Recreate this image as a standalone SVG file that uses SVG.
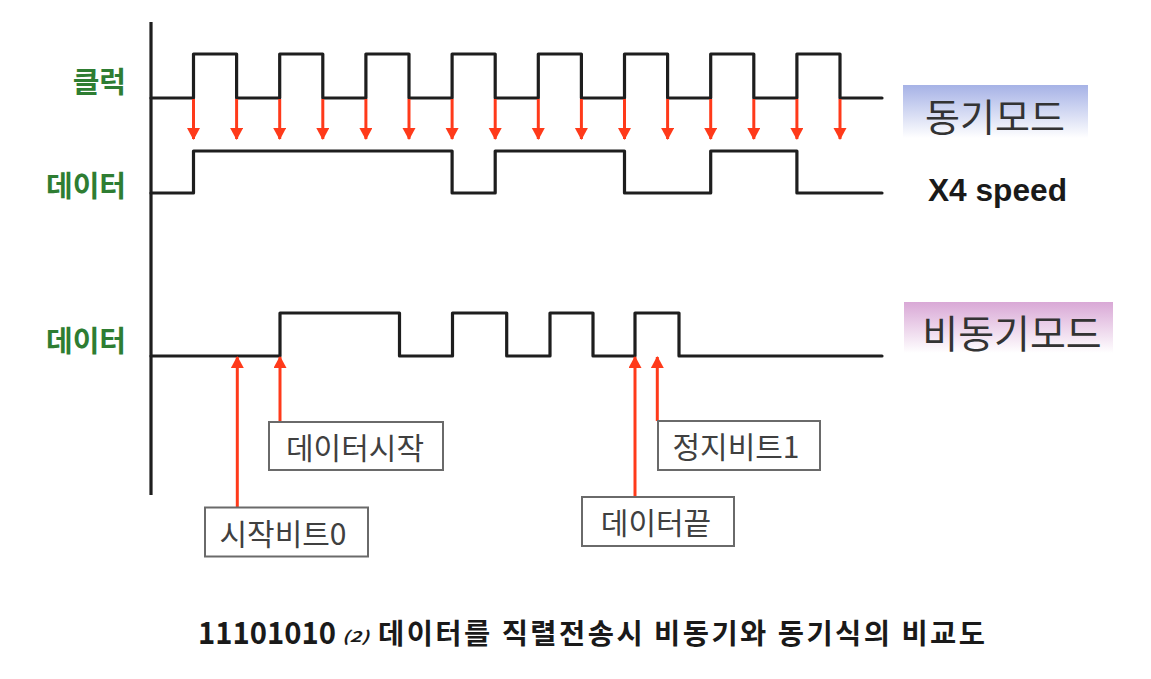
<svg xmlns="http://www.w3.org/2000/svg" width="1151" height="679" viewBox="0 0 1151 679">
<style>
.wave{fill:none;stroke:#1e1e1e;stroke-width:3.2;stroke-linejoin:round;stroke-linecap:round}
.axis{stroke:#1e1e1e;stroke-width:3.2}
.arr{stroke:#ff3a1a;stroke-width:3}
.lbl{font-family:"Noto Sans CJK KR","Noto Sans",sans-serif;font-weight:700;font-size:29px;fill:#2e7d32;text-anchor:end}
.box{fill:#fff;stroke:#6a6a6a;stroke-width:2}
.btxt{font-family:"Noto Sans CJK KR","Noto Sans",sans-serif;font-size:30px;fill:#404040;text-anchor:middle}
.mode{font-family:"Noto Sans CJK KR","Noto Sans",sans-serif;fill:#333;text-anchor:middle}
.cap{font-family:"Noto Sans CJK KR","Noto Sans",sans-serif;font-weight:700;fill:#1a1a1a}
</style>
<defs>
<marker id="ah" markerUnits="userSpaceOnUse" markerWidth="14" markerHeight="14" refX="11" refY="6.5" orient="auto">
<path d="M0,0 L12,6.5 L0,13 Z" fill="#ff3a1a"/>
</marker>
<linearGradient id="gblue" x1="0" y1="0" x2="0" y2="1">
<stop offset="0" stop-color="#a6b2e6"/>
<stop offset="1" stop-color="#ffffff"/>
</linearGradient>
<linearGradient id="gpink" x1="0" y1="0" x2="0" y2="1">
<stop offset="0" stop-color="#d9a8d6"/>
<stop offset="1" stop-color="#ffffff"/>
</linearGradient>
</defs>
<rect width="1151" height="679" fill="#fff"/>

<g id="axis"><line class="axis" x1="151" y1="22" x2="151" y2="495"/></g>

<g id="labels">
<text class="lbl" x="126" y="93">클럭</text>
<text class="lbl" x="126" y="197">데이터</text>
<text class="lbl" x="126" y="352">데이터</text>
</g>

<g id="clock"><path class="wave" d="M151 98 H193.5 V54 H236.6 V98 H279.7 V54 H322.8 V98 H365.9 V54 H409 V98 H452.1 V54 H495.2 V98 H538.3 V54 H581.4 V98 H624.5 V54 H667.6 V98 H710.7 V54 H753.8 V98 H796.9 V54 H840 V98 H882"/></g>

<g id="sync-data"><path class="wave" d="M151 193 H193.5 V151 H452.1 V193 H495.2 V151 H624.5 V193 H710.7 V151 H796.9 V193 H882"/></g>

<g id="async-data"><path class="wave" d="M151 356 H280 V313 H399.5 V356 H452.5 V313 H506.7 V356 H550 V313 H593 V356 H635 V313 H679 V356 H882"/></g>

<g id="connectors">
<line class="arr" x1="193.5" y1="99" x2="193.5" y2="139" marker-end="url(#ah)"/>
<line class="arr" x1="236.6" y1="99" x2="236.6" y2="139" marker-end="url(#ah)"/>
<line class="arr" x1="279.7" y1="99" x2="279.7" y2="139" marker-end="url(#ah)"/>
<line class="arr" x1="322.8" y1="99" x2="322.8" y2="139" marker-end="url(#ah)"/>
<line class="arr" x1="365.9" y1="99" x2="365.9" y2="139" marker-end="url(#ah)"/>
<line class="arr" x1="409" y1="99" x2="409" y2="139" marker-end="url(#ah)"/>
<line class="arr" x1="452.1" y1="99" x2="452.1" y2="139" marker-end="url(#ah)"/>
<line class="arr" x1="495.2" y1="99" x2="495.2" y2="139" marker-end="url(#ah)"/>
<line class="arr" x1="538.3" y1="99" x2="538.3" y2="139" marker-end="url(#ah)"/>
<line class="arr" x1="581.4" y1="99" x2="581.4" y2="139" marker-end="url(#ah)"/>
<line class="arr" x1="624.5" y1="99" x2="624.5" y2="139" marker-end="url(#ah)"/>
<line class="arr" x1="667.6" y1="99" x2="667.6" y2="139" marker-end="url(#ah)"/>
<line class="arr" x1="710.7" y1="99" x2="710.7" y2="139" marker-end="url(#ah)"/>
<line class="arr" x1="753.8" y1="99" x2="753.8" y2="139" marker-end="url(#ah)"/>
<line class="arr" x1="796.9" y1="99" x2="796.9" y2="139" marker-end="url(#ah)"/>
<line class="arr" x1="840" y1="99" x2="840" y2="139" marker-end="url(#ah)"/>
<line class="arr" x1="237.3" y1="507" x2="237.3" y2="357" marker-end="url(#ah)"/>
<line class="arr" x1="280" y1="421" x2="280" y2="357" marker-end="url(#ah)"/>
<line class="arr" x1="635" y1="497" x2="635" y2="357" marker-end="url(#ah)"/>
<line class="arr" x1="657.3" y1="421" x2="657.3" y2="357" marker-end="url(#ah)"/>
</g>

<g id="sync-mode">
<rect x="903" y="85" width="185" height="53" fill="url(#gblue)"/>
<text class="mode" x="995" y="131" font-size="38">동기모드</text>
</g>
<g id="speed"><text x="928" y="201" font-family="Liberation Sans, Arial, sans-serif" font-weight="700" font-size="31" fill="#1a1a1a" textLength="139" lengthAdjust="spacingAndGlyphs">X4 speed</text></g>

<g id="async-mode">
<rect x="904" y="302" width="209" height="51" fill="url(#gpink)"/>
<text class="mode" x="1012" y="348" font-size="39">비동기모드</text>
</g>

<g id="box-data-start">
<rect class="box" x="269" y="422" width="174" height="48"/>
<text class="btxt" x="355" y="459">데이터시작</text>
</g>
<g id="box-start-bit">
<rect class="box" x="205" y="507.5" width="163" height="49"/>
<text class="btxt" x="283" y="545">시작비트0</text>
</g>
<g id="box-stop-bit">
<rect class="box" x="658" y="421" width="162" height="49"/>
<text class="btxt" x="736" y="458">정지비트1</text>
</g>
<g id="box-data-end">
<rect class="box" x="582" y="497" width="152" height="49"/>
<text class="btxt" x="656" y="534">데이터끝</text>
</g>

<g id="caption">
<text class="cap" x="198" y="644" font-family="Liberation Sans, Arial, sans-serif" font-size="31" textLength="138" lengthAdjust="spacingAndGlyphs">11101010</text>
<text class="cap" x="342" y="642" font-size="15" font-style="italic" textLength="27" lengthAdjust="spacingAndGlyphs">(2)</text>
<text class="cap" x="378" y="644" font-size="28.5" textLength="607" lengthAdjust="spacing">데이터를 직렬전송시 비동기와 동기식의 비교도</text>
</g>
</svg>
